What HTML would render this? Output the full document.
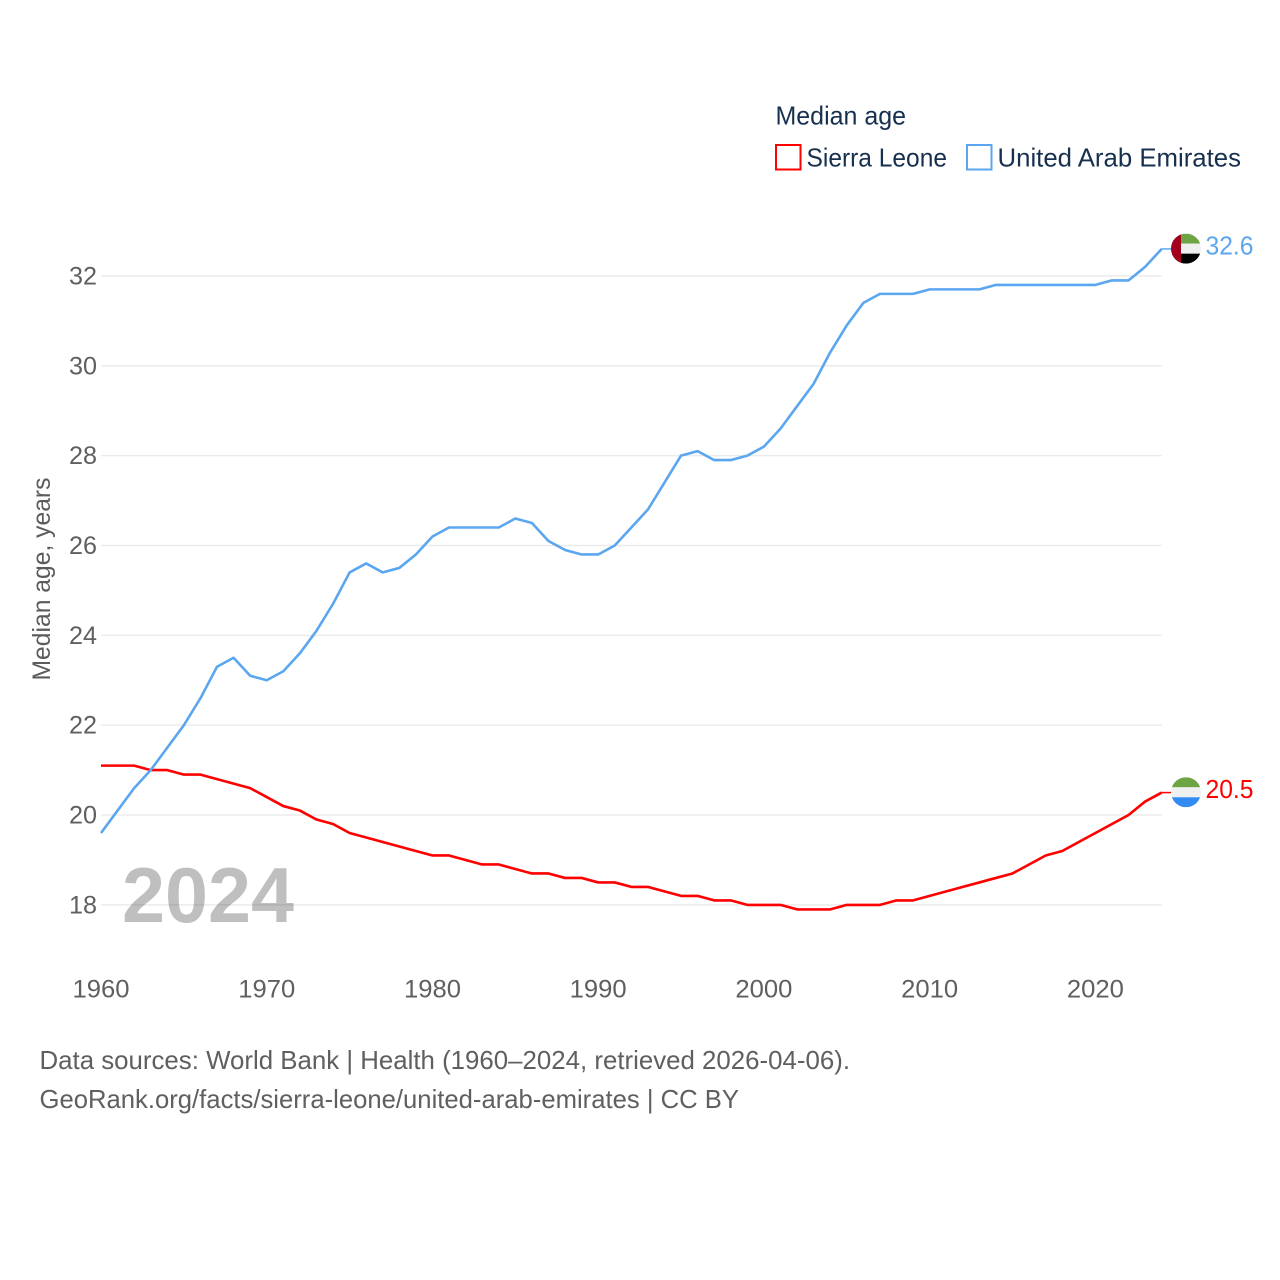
<!DOCTYPE html>
<html lang="en">
<head>
<meta charset="utf-8">
<title>Median age: Sierra Leone and United Arab Emirates</title>
<style>
html,body{margin:0;padding:0;background:#fff;width:1280px;height:1280px;overflow:hidden}
svg{display:block}
text{font-family:"Liberation Sans",sans-serif}
</style>
</head>
<body>
<svg id="chart" xmlns="http://www.w3.org/2000/svg" width="1280" height="1280" viewBox="0 0 1280 1280">
  <rect width="1280" height="1280" fill="#fff"/>
  <defs>
    <clipPath id="flag-clip"><circle cx="0" cy="0" r="15"/></clipPath>
  </defs>
  <g id="grid"></g>
  <text x="122" y="922" font-size="78" font-weight="700" fill="#000" fill-opacity="0.25" textLength="172" lengthAdjust="spacingAndGlyphs">2024</text>
  <g id="y-ticks"></g>
  <g id="x-ticks"></g>
  <text transform="translate(50,680.5) rotate(-90)" font-size="25" fill="#5b5b5b" textLength="203" lengthAdjust="spacingAndGlyphs">Median age, years</text>

  <g id="series"></g>
  <g id="end-markers"></g>

  <g>
    <text x="775.5" y="124.5" font-size="26" fill="#18304f" textLength="130.5" lengthAdjust="spacingAndGlyphs">Median age</text>
    <g>
      <rect x="776" y="145" width="24.5" height="24.5" fill="#fff" stroke="#ff0000" stroke-width="2"/>
      <text x="806.5" y="166.5" font-size="26" fill="#18304f" textLength="140.5" lengthAdjust="spacingAndGlyphs">Sierra Leone</text>
    </g>
    <g>
      <rect x="967" y="145" width="24.5" height="24.5" fill="#fff" stroke="#5ba6f0" stroke-width="2"/>
      <text x="997.5" y="166.5" font-size="26" fill="#18304f" textLength="243.5" lengthAdjust="spacingAndGlyphs">United Arab Emirates</text>
    </g>
  </g>

  <text x="39.5" y="1069" font-size="26" fill="#5f5f5f" textLength="810.5" lengthAdjust="spacingAndGlyphs">Data sources: World Bank | Health (1960–2024, retrieved 2026-04-06).</text>
  <text x="39.5" y="1108" font-size="26" fill="#5f5f5f" textLength="699.5" lengthAdjust="spacingAndGlyphs">GeoRank.org/facts/sierra-leone/united-arab-emirates | CC BY</text>
</svg>
<script>
const startYear = 1960;
const yTickValues = [18, 20, 22, 24, 26, 28, 30, 32];
const xTickValues = [1960, 1970, 1980, 1990, 2000, 2010, 2020];
const uaeValues = [19.6,20.1,20.6,21.0,21.5,22.0,22.6,23.3,23.5,23.1,
  23.0,23.2,23.6,24.1,24.7,25.4,25.6,25.4,25.5,25.8,
  26.2,26.4,26.4,26.4,26.4,26.6,26.5,26.1,25.9,25.8,
  25.8,26.0,26.4,26.8,27.4,28.0,28.1,27.9,27.9,28.0,
  28.2,28.6,29.1,29.6,30.3,30.9,31.4,31.6,31.6,31.6,
  31.7,31.7,31.7,31.7,31.8,31.8,31.8,31.8,31.8,31.8,
  31.8,31.9,31.9,32.2,32.6];
const sierraLeoneValues = [21.1,21.1,21.1,21.0,21.0,20.9,20.9,20.8,20.7,20.6,
  20.4,20.2,20.1,19.9,19.8,19.6,19.5,19.4,19.3,19.2,
  19.1,19.1,19.0,18.9,18.9,18.8,18.7,18.7,18.6,18.6,
  18.5,18.5,18.4,18.4,18.3,18.2,18.2,18.1,18.1,18.0,
  18.0,18.0,17.9,17.9,17.9,18.0,18.0,18.0,18.1,18.1,
  18.2,18.3,18.4,18.5,18.6,18.7,18.9,19.1,19.2,19.4,
  19.6,19.8,20.0,20.3,20.5];

const NS = 'http://www.w3.org/2000/svg';
const xScale = year => 101 + (year - 1960) * (1095.4 - 101) / 60;
const yScale = value => 904.9 - (value - 18) * (904.9 - 275.9) / 14;
const plotLeft = xScale(1960);
const plotRight = xScale(2024);

function make(tag, attrs, parent, content) {
  const el = document.createElementNS(NS, tag);
  for (const key in attrs) el.setAttribute(key, attrs[key]);
  if (content !== undefined) el.textContent = content;
  parent.appendChild(el);
  return el;
}

const gridGroup = document.getElementById('grid');
const yTickGroup = document.getElementById('y-ticks');
const xTickGroup = document.getElementById('x-ticks');
const seriesGroup = document.getElementById('series');
const markerGroup = document.getElementById('end-markers');

yTickValues.forEach(value => {
  const gridLine = make('line', {x1: plotLeft, x2: plotRight, y1: yScale(value), y2: yScale(value), stroke: '#ebebeb', 'stroke-width': 1.5}, gridGroup);
  
  
  const tick = make('text', {x: 97, y: yScale(value) + 8.5, 'text-anchor': 'end', 'font-size': 25, fill: '#5f5f5f', textLength: 28, lengthAdjust: 'spacingAndGlyphs'}, yTickGroup, String(value));
  
  
});

xTickValues.forEach(year => {
  const tick = make('text', {x: xScale(year), y: 997.5, 'text-anchor': 'middle', 'font-size': 25, fill: '#5f5f5f', textLength: 57, lengthAdjust: 'spacingAndGlyphs'}, xTickGroup, String(year));
  
  
});

function drawLine(values, color, name) {
  const points = values.map((v, i) => xScale(startYear + i).toFixed(2) + ',' + yScale(v).toFixed(2)).join(' ');
  const line = make('polyline', {points: points, fill: 'none', stroke: color, 'stroke-width': 2.6, 'stroke-linejoin': 'round'}, seriesGroup);
  
  
}
drawLine(sierraLeoneValues, '#ff0000', 'line-sierra-leone');
drawLine(uaeValues, '#5ba6f0', 'line-united-arab-emirates');

function drawMarker(values, color, name, drawFlag) {
  const last = values[values.length - 1];
  const yPos = yScale(last);
  const connector = make('line', {x1: plotRight, x2: 1171, y1: yPos, y2: yPos, stroke: color, 'stroke-width': 1.5}, markerGroup);
  
  
  const flag = make('g', {transform: 'translate(1186,' + (yPos - 0.3).toFixed(2) + ')', 'clip-path': 'url(#flag-clip)'}, markerGroup);
  
  
  drawFlag(flag);
  const label = make('text', {x: 1205.5, y: yPos + 5.5, 'font-size': 26, fill: color, textLength: 48, lengthAdjust: 'spacingAndGlyphs'}, markerGroup, last.toFixed(1));
  
  
}

drawMarker(uaeValues, '#5ba6f0', 'united-arab-emirates', flag => {
  make('rect', {x: -15, y: -15, width: 30, height: 10, fill: '#6da544'}, flag);
  make('rect', {x: -15, y: -5, width: 30, height: 10, fill: '#f0f0f0'}, flag);
  make('rect', {x: -15, y: 5, width: 30, height: 10, fill: '#000000'}, flag);
  make('rect', {x: -15, y: -15, width: 10, height: 30, fill: '#a2001d'}, flag);
});
drawMarker(sierraLeoneValues, '#ff0000', 'sierra-leone', flag => {
  make('rect', {x: -15, y: -15, width: 30, height: 10, fill: '#6da544'}, flag);
  make('rect', {x: -15, y: -5, width: 30, height: 10, fill: '#f0f0f0'}, flag);
  make('rect', {x: -15, y: 5, width: 30, height: 10, fill: '#338af3'}, flag);
});
</script>
</body>
</html>
